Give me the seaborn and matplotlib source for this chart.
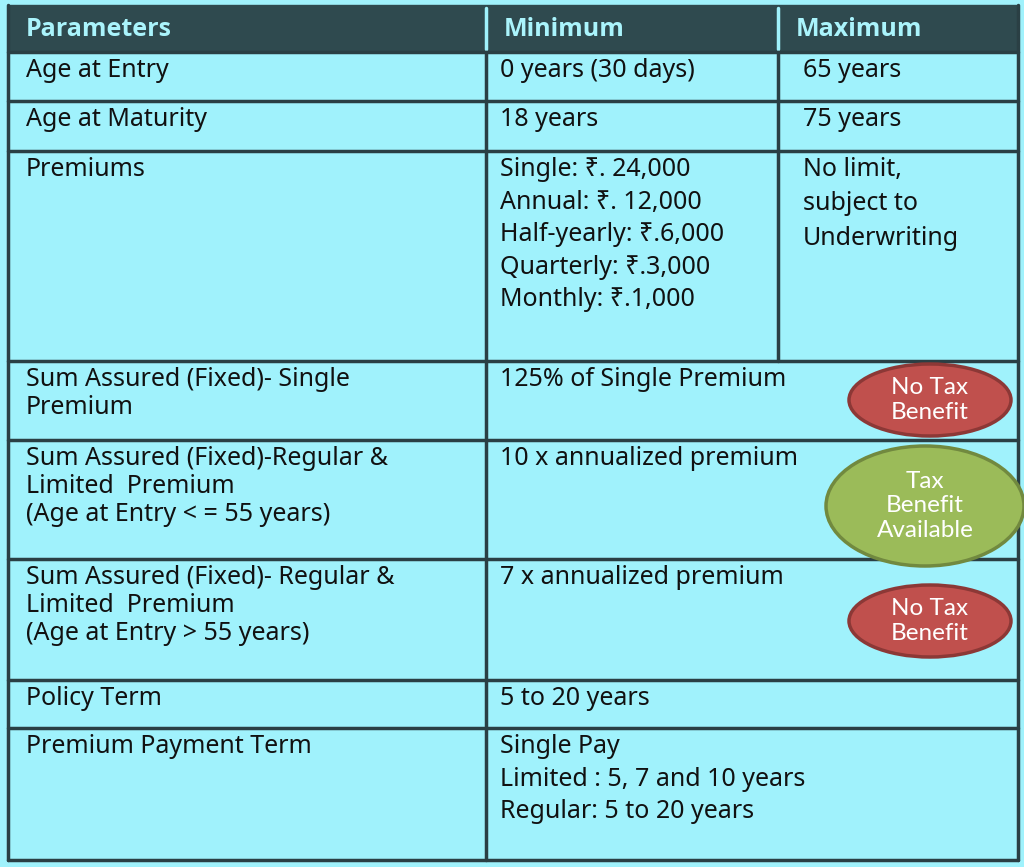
import matplotlib
matplotlib.use("Agg")
import matplotlib.pyplot as plt
import seaborn as sns
from matplotlib.patches import Rectangle, Ellipse

sns.set_theme(style="white")
plt.rcParams['font.family'] = ['Noto Sans', 'DejaVu Sans']

headers = ["Parameters", "Minimum", "Maximum"]
params = ["Age at Entry", "Age at Maturity", "Premiums",
          "Sum Assured (Fixed)- Single\nPremium",
          "Sum Assured (Fixed)-Regular &\nLimited  Premium\n(Age at Entry < = 55 years)",
          "Sum Assured (Fixed)- Regular &\nLimited  Premium\n(Age at Entry > 55 years)",
          "Policy Term", "Premium Payment Term"]
minimum = ["0 years (30 days)", "18 years",
           "Single: ₹. 24,000\nAnnual: ₹. 12,000\nHalf-yearly: ₹.6,000\nQuarterly: ₹.3,000\nMonthly: ₹.1,000",
           "125% of Single Premium", "10 x annualized premium", "7 x annualized premium",
           "5 to 20 years", "Single Pay\nLimited : 5, 7 and 10 years\nRegular: 5 to 20 years"]
maximum = ["65 years", "75 years", "No limit,\nsubject to\nUnderwriting", None, None, None, None, None]
badges = [None, None, None, "No Tax\nBenefit", "Tax\nBenefit\nAvailable", "No Tax\nBenefit", None, None]

row_edges = [52, 101, 151, 361, 440, 559, 680, 728, 860]
col_edges = [8, 486, 778, 1018]
BG = "#a0f2fc"; DARK = "#2f4a4f"; LINE = "#2a3f44"

fig = plt.figure(figsize=(10.24, 8.67), dpi=100)
fig.patch.set_facecolor(BG)
ax = fig.add_axes([0, 0, 1, 1])
ax.set_xlim(0, 1024); ax.set_ylim(867, 0); ax.axis("off")

ax.add_patch(Rectangle((0, 0), 1024, 867, color=BG, zorder=0))
ax.add_patch(Rectangle((col_edges[0], 5), col_edges[-1]-col_edges[0], row_edges[0]-5, color=DARK, zorder=1))
for x in col_edges[1:3]:
    ax.plot([x, x], [8, row_edges[0]-3], color=BG, lw=2.5, zorder=2)
for i, h in enumerate(headers):
    ax.text(col_edges[i]+18, 30, h, color="#aaf4fc", fontsize=18, fontweight="bold",
            va="center", zorder=3, family=["Open Sans", "DejaVu Sans"])

lw = 2.5
ax.plot([col_edges[0], col_edges[0]], [5, row_edges[-1]], color=LINE, lw=lw)
ax.plot([col_edges[-1], col_edges[-1]], [5, row_edges[-1]], color=LINE, lw=lw)
for y in row_edges:
    ax.plot([col_edges[0], col_edges[-1]], [y, y], color=LINE, lw=lw)
fs = 18
for r in range(len(params)):
    y0, y1 = row_edges[r], row_edges[r+1]
    ax.plot([col_edges[1]]*2, [y0, y1], color=LINE, lw=lw)
    if maximum[r] is not None:
        ax.plot([col_edges[2]]*2, [y0, y1], color=LINE, lw=lw)
    ax.text(col_edges[0]+18, y0+6, params[r], fontsize=fs, va="top", color="#111", linespacing=1.15)
    ax.text(col_edges[1]+14, y0+6, minimum[r], fontsize=fs, va="top", color="#111", linespacing=1.4)
    if maximum[r] is not None:
        ax.text(col_edges[2]+25, y0+6, maximum[r], fontsize=fs, va="top", color="#111", linespacing=1.5)

badge_geom = {3: (930, 400, 162, 72), 4: (925, 506, 198, 120), 5: (930, 621, 162, 72)}
for r, b in enumerate(badges):
    if b is None:
        continue
    cx, cy, w, h = badge_geom[r]
    red = b.startswith("No")
    fc = "#c0504d" if red else "#9bbb59"
    ec = "#8c3836" if red else "#71893f"
    ax.add_patch(Ellipse((cx, cy), w, h, fc=fc, ec=ec, lw=2.5, zorder=5))
    ax.text(cx, cy, b, color="white", fontsize=17.5, ha="center", va="center",
            linespacing=1.2, zorder=6, family=["Lato", "DejaVu Sans"])

fig.savefig("out.png", dpi=100)
